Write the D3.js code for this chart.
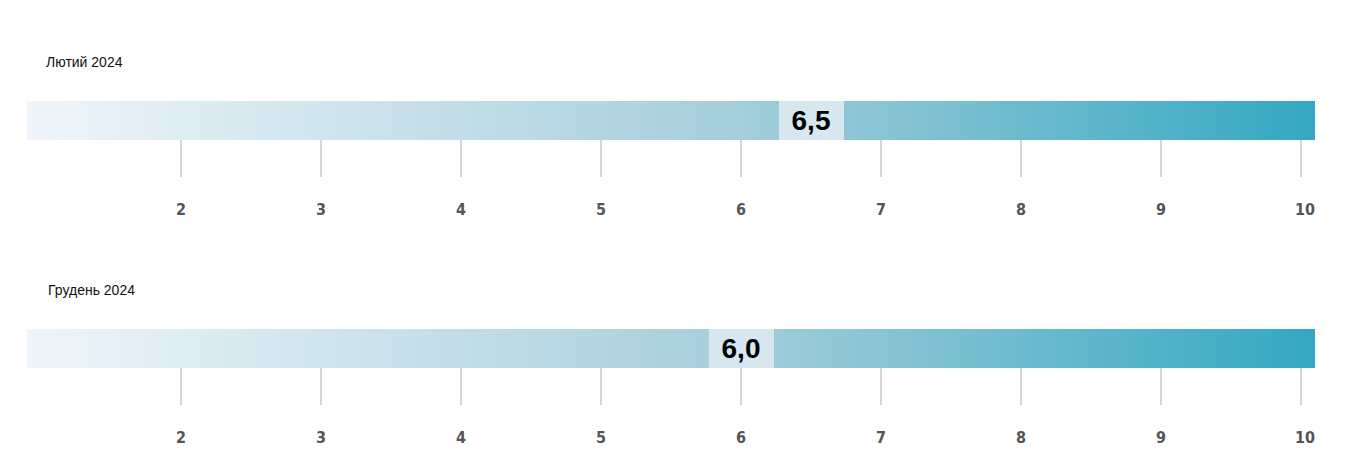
<!DOCTYPE html>
<html><head><meta charset="utf-8">
<script src="https://cdn.jsdelivr.net/npm/d3@7"></script>
<style>body{margin:0;background:#fff}</style>
</head><body>
<svg id="c" width="1351" height="474"></svg>
<script>
const titles = ["Лютий 2024", "Грудень 2024"];
const values = [6.5, 6.0];
const ticks = [2, 3, 4, 5, 6, 7, 8, 9, 10];

const svg = d3.select("#c");
const x = d3.scaleLinear().domain([0.9, 10.1]).range([27, 1315]);
const grad = svg.append("defs").append("linearGradient").attr("id", "g");
grad.append("stop").attr("offset", "0%").attr("stop-color", "#eff5fa");
grad.append("stop").attr("offset", "55%").attr("stop-color", "#a5cedb");
grad.append("stop").attr("offset", "100%").attr("stop-color", "#33a8c1");

titles.forEach((t, i) => {
  const g = svg.append("g").attr("transform", `translate(0,${i * 228})`);
  g.append("text").attr("x", 46 + i * 2).attr("y", 67).text(t)
    .style("font", "14px 'Liberation Sans', Arial").attr("fill", "#111");
  g.append("rect").attr("x", x.range()[0]).attr("y", 101)
    .attr("width", x.range()[1] - x.range()[0]).attr("height", 39).attr("fill", "url(#g)");
  const tx = d => Math.min(x(d), x.range()[1] - 2);
  g.selectAll(".t").data(ticks).enter().append("line")
    .attr("x1", tx).attr("x2", tx).attr("y1", 140).attr("y2", 177)
    .attr("stroke", "#c8c8c8").attr("stroke-width", 1.5);
  g.selectAll(".l").data(ticks).enter().append("text")
    .attr("x", d => d === 10 ? x.range()[1] : x(d)).attr("y", 215)
    .attr("text-anchor", d => d === 10 ? "end" : "middle")
    .text(d => d).style("font", "bold 16px 'DejaVu Sans Condensed', 'DejaVu Sans'").attr("fill", "#555");
  const v = values[i];
  g.append("rect").attr("x", x(v) - 32).attr("y", 101).attr("width", 65).attr("height", 39).attr("fill", "#d6e7ef");
  g.append("text").attr("x", x(v)).attr("y", 130).attr("text-anchor", "middle")
    .text(d3.format(".1f")(v).replace(".", ","))
    .style("font", "bold 28px 'Liberation Sans', Arial").attr("fill", "#000");
});
</script>
</body></html>
